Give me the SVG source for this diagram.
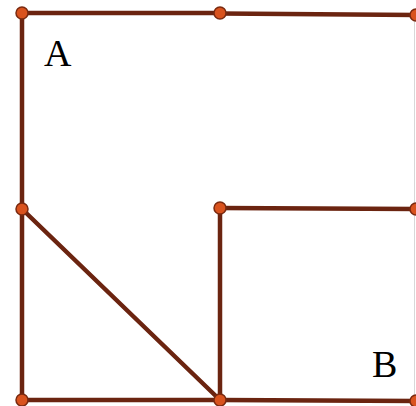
<svg xmlns="http://www.w3.org/2000/svg" width="416" height="406" viewBox="0 0 416 406">
<style>
.seg{stroke:#6B2410;stroke-width:4.5;stroke-linecap:round;fill:none}
.pt{fill:#D9531E;stroke:#7A2A10;stroke-width:1.5}
.lbl{font-family:"Liberation Serif",serif;font-size:38px;fill:#000}
</style>
<rect width="416" height="406" fill="#fff"/>
<line x1="414.5" y1="15" x2="414.5" y2="400" stroke="#d8d8d8" stroke-width="1"/>
<g id="connectors">
<line class="seg" x1="22" y1="13" x2="220" y2="13"/>
<line class="seg" x1="220" y1="13.5" x2="418" y2="15"/>
<line class="seg" x1="22" y1="13" x2="22" y2="400"/>
<line class="seg" x1="22" y1="209" x2="220" y2="400"/>
<line class="seg" x1="220" y1="208" x2="220" y2="400"/>
<line class="seg" x1="220" y1="208" x2="418" y2="209"/>
<line class="seg" x1="22" y1="400" x2="220" y2="400"/>
<line class="seg" x1="220" y1="400" x2="418" y2="401"/>
</g>
<g id="p1"><circle class="pt" cx="22" cy="13" r="6"/></g>
<g id="p2"><circle class="pt" cx="220" cy="13" r="6"/></g>
<g id="p3"><circle class="pt" cx="416" cy="15" r="6"/></g>
<g id="p4"><circle class="pt" cx="22" cy="209" r="6"/></g>
<g id="p5"><circle class="pt" cx="220" cy="208" r="6"/></g>
<g id="p6"><circle class="pt" cx="416" cy="209" r="6"/></g>
<g id="p7"><circle class="pt" cx="22" cy="400" r="6"/></g>
<g id="p8"><circle class="pt" cx="220" cy="400" r="6"/></g>
<g id="p9"><circle class="pt" cx="416" cy="401" r="6"/></g>
<g id="labelA"><text class="lbl" x="44" y="66">A</text></g>
<g id="labelB"><text class="lbl" x="372" y="377">B</text></g>
</svg>
